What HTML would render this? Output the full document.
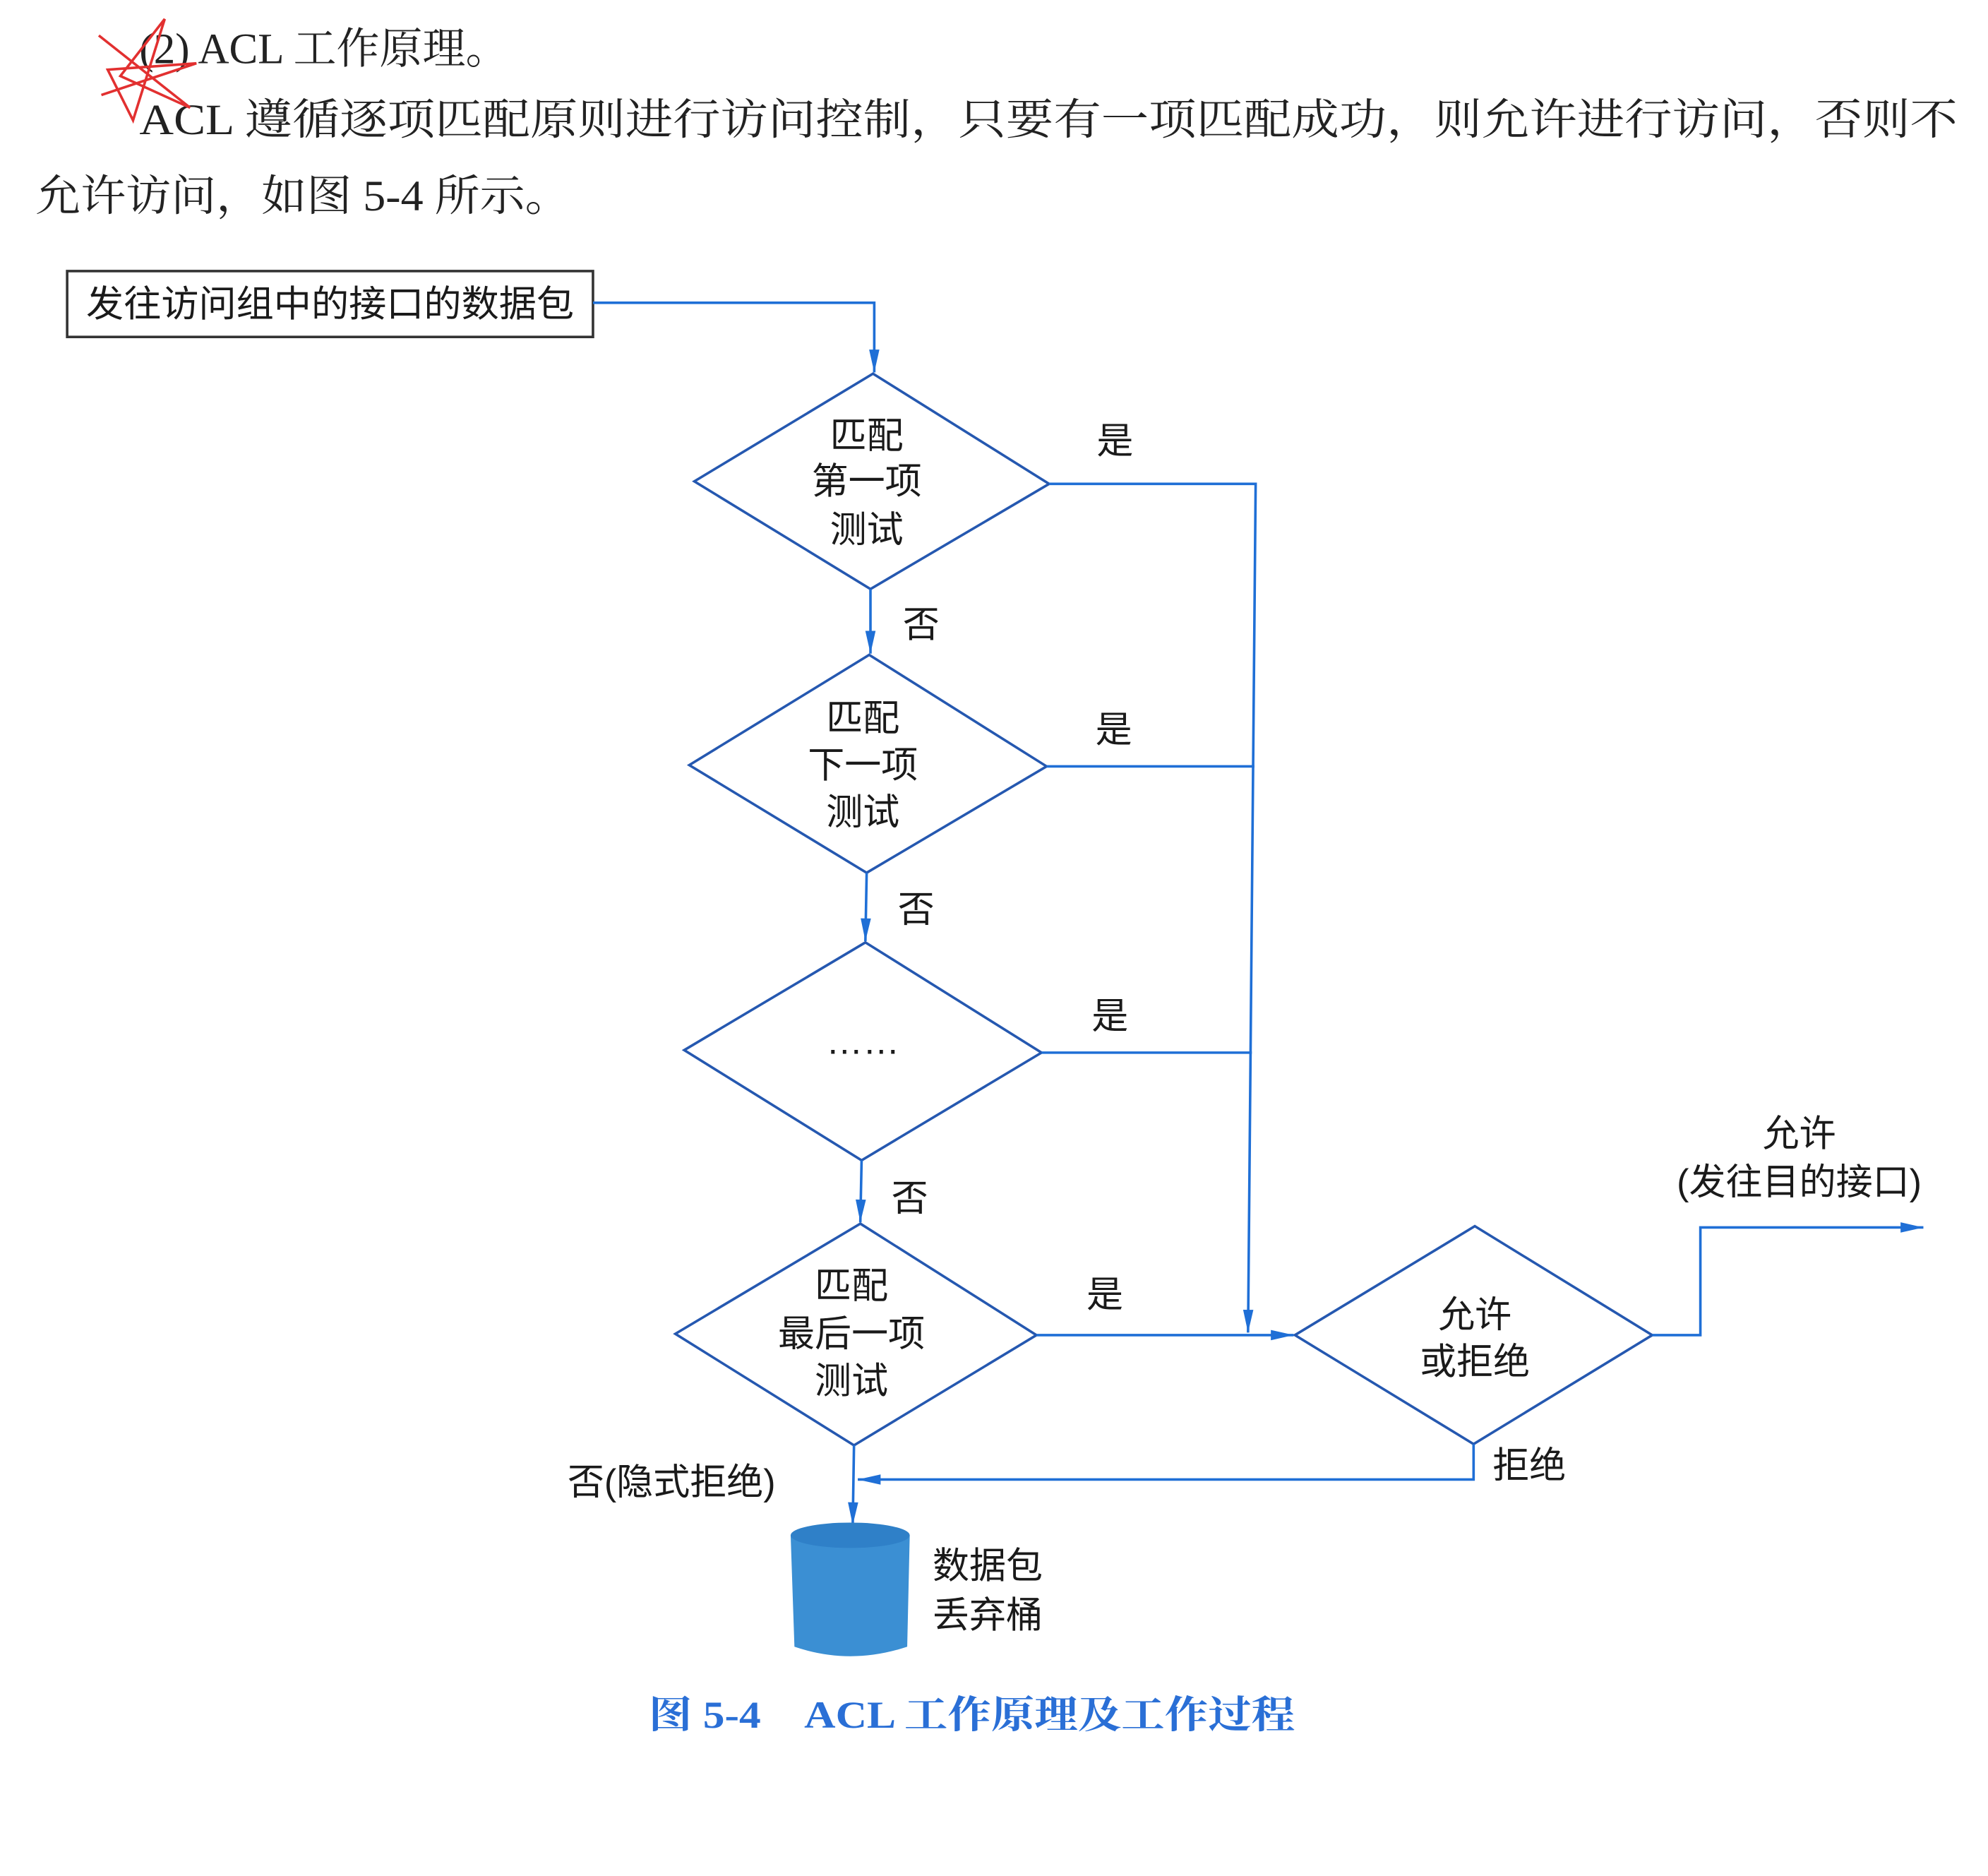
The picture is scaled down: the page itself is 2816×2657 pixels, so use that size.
<!DOCTYPE html>
<html><head><meta charset="utf-8"><style>
html,body{margin:0;padding:0;background:#fff;}
svg{display:block;}
text{font-family:"Liberation Serif","Noto Serif CJK SC","Noto Sans CJK SC",serif;fill:#222;}
.s{font-family:"Liberation Sans","Noto Sans CJK SC",sans-serif;font-size:29px;fill:#1a1a1a;}
</style></head><body>
<svg width="2816" height="2657" viewBox="0 0 1569 1481" preserveAspectRatio="none" xmlns="http://www.w3.org/2000/svg">
<defs><marker id="a" viewBox="0 0 20 10" refX="20" refY="5" markerWidth="20" markerHeight="9" markerUnits="userSpaceOnUse" orient="auto-start-reverse"><path d="M0,0.5 L20,5 L0,9.5 z" fill="#1f6fd6"/></marker></defs>
<text x="110" y="50" font-size="34">(2) ACL 工作原理。</text>
<text x="110" y="106" font-size="34" textLength="1435" lengthAdjust="spacingAndGlyphs">ACL 遵循逐项匹配原则进行访问控制，只要有一项匹配成功，则允许进行访问，否则不</text>
<text x="28" y="166" font-size="34" textLength="422" lengthAdjust="spacingAndGlyphs">允许访问，如图 5-4 所示。</text>
<path d="M78,28 L150,85 L95,60 L130,15 L105,95 L85,55 L155,50 L80,75" fill="none" stroke="#e23030" stroke-width="2"/>
<rect x="53" y="214" width="415" height="52" fill="none" stroke="#333" stroke-width="2"/>
<text class="s" x="68" y="250" textLength="385" lengthAdjust="spacingAndGlyphs">发往访问组中的接口的数据包</text>
<g fill="none" stroke="#2558b0" stroke-width="2">
<polygon points="689,295 828,382 687,465 548,380"/>
<polygon points="686,517 826,605 684,689 544,604"/>
<polygon points="683,744 822,831 680,916 540,829"/>
<polygon points="679,966 818,1054 674,1141 533,1053"/>
<polygon points="1164,968 1304,1054 1163,1140 1022,1054"/>
</g>
<g fill="none" stroke="#1f6fd6" stroke-width="2">
<polyline points="468,239 690,239 690,294" marker-end="url(#a)"/>
<line x1="687" y1="465" x2="687" y2="516" marker-end="url(#a)"/>
<line x1="684" y1="689" x2="683" y2="743" marker-end="url(#a)"/>
<line x1="680" y1="916" x2="679" y2="965" marker-end="url(#a)"/>
<line x1="674" y1="1141" x2="673" y2="1204" marker-end="url(#a)"/>
<polyline points="828,382 991,382 985,1052" marker-end="url(#a)"/>
<line x1="826" y1="605" x2="990" y2="605"/>
<line x1="822" y1="831" x2="988" y2="831"/>
<line x1="818" y1="1054" x2="1021" y2="1054" marker-end="url(#a)"/>
<polyline points="1304,1054 1342,1054 1342,969 1518,969" marker-end="url(#a)"/>
<polyline points="1163,1140 1163,1168 677,1168" marker-end="url(#a)"/>
</g>
<g text-anchor="middle">
<text class="s" x="684" y="354">匹配</text><text class="s" x="684" y="390">第一项</text><text class="s" x="684" y="428">测试</text>
<text class="s" x="681" y="577">匹配</text><text class="s" x="681" y="614">下一项</text><text class="s" x="681" y="651">测试</text>
<text class="s" x="681" y="832">……</text>
<text class="s" x="672" y="1025">匹配</text><text class="s" x="672" y="1063">最后一项</text><text class="s" x="672" y="1100">测试</text>
<text class="s" x="1164" y="1048">允许</text><text class="s" x="1164" y="1085">或拒绝</text>
<text class="s" x="880" y="358">是</text><text class="s" x="879" y="586">是</text><text class="s" x="876" y="812">是</text><text class="s" x="872" y="1032">是</text>
<text class="s" x="727" y="503">否</text><text class="s" x="723" y="728">否</text><text class="s" x="718" y="956">否</text>
<text class="s" x="1420" y="905">允许</text><text class="s" x="1420" y="943">(发往目的接口)</text>
<text class="s" x="1207" y="1167">拒绝</text>
<text class="s" x="530" y="1180">否(隐式拒绝)</text>
</g>
<path d="M624,1212 Q671,1196 718,1212 L716,1300 Q671,1315 627,1300 Z" fill="#3b8fd3"/>
<ellipse cx="671" cy="1212" rx="47" ry="10" fill="#2f80c8"/>
<text class="s" x="736" y="1246">数据包</text>
<text class="s" x="736" y="1285">丢弃桶</text>
<text x="512" y="1364" font-size="30" font-weight="bold" style="fill:#2a6fd6" textLength="510" lengthAdjust="spacingAndGlyphs">图 5-4　ACL 工作原理及工作过程</text>
</svg>
</body></html>
